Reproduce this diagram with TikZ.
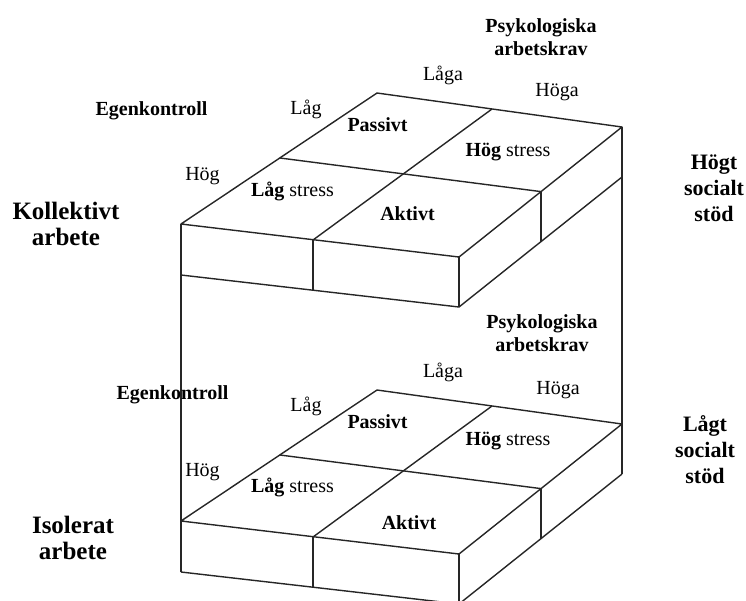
\documentclass[tikz,border=0pt]{standalone}
\usepackage{fontspec}
\setmainfont{Liberation Serif}
\usepackage{tikz}
\usetikzlibrary{positioning}
\tikzstyle{kant}=[line width=0.7pt,draw=black!85,line join=round]
\tikzstyle{etikett}=[inner sep=0pt,font=\fontsize{10}{11.5}\selectfont]
\tikzstyle{rubrik}=[etikett,align=center,font=\fontsize{10}{11.5}\selectfont\bfseries]
\tikzstyle{ruta}=[etikett,font=\fontsize{10}{11.5}\selectfont\bfseries]
\tikzstyle{arbete}=[rubrik,font=\fontsize{12.5}{13}\selectfont\bfseries]
\tikzstyle{stod}=[rubrik,font=\fontsize{11}{13}\selectfont\bfseries]

\begin{document}
\begin{tikzpicture}[x=0.5pt,y=-0.5pt]
	\useasboundingbox (0,0) rectangle (746,601);
	% de två lådorna, k = kollektivt, i = isolerat
	\foreach \n/\dy in {k/0,i/297}{
		\begin{scope}[shift={(0,\dy)}]
			\coordinate (\n-fl) at (181,224);
			\coordinate (\n-bl) at (377,93);
			\coordinate (\n-br) at (622,127);
			\coordinate (\n-fr) at (459,257);
			\coordinate (\n-fm) at (313,240);
			\coordinate (\n-bm) at (492,109);
			\coordinate (\n-lm) at (280,158);
			\coordinate (\n-rm) at (541,191.6);
			\coordinate (\n-fl2) at (181,275);
			\coordinate (\n-fm2) at (313,290);
			\coordinate (\n-fr2) at (459,307);
			\coordinate (\n-rm2) at (541,241.6);
			\coordinate (\n-br2) at (622,177);
			\draw[kant] (\n-fl) -- (\n-bl) -- (\n-br) -- (\n-fr) -- cycle;
			\draw[kant] (\n-fm) -- (\n-bm);
			\draw[kant] (\n-lm) -- (\n-rm);
			\draw[kant] (\n-fl2) -- (\n-fr2) -- (\n-br2);
			\draw[kant] (\n-fr) -- (\n-fr2);
			\draw[kant] (\n-fm) -- (\n-fm2);
			\draw[kant] (\n-rm) -- (\n-rm2);
		\end{scope}
	}
	\draw[kant] (k-fl) -- (i-fl2);
	\draw[kant] (k-br) -- (i-br2);

	% övre låda
	\node[rubrik]	(psyk1)	at (541,37)	{Psykologiska\\arbetskrav};
	\node[etikett]	(laga1)	at (443,75)	{Låga};
	\node[etikett]	(hoga1)	at (557,92)	{Höga};
	\node[ruta]	(egen1)	at (151.5,111)	{Egenkontroll};
	\node[etikett]	(lag1)	at (306,109)	{Låg};
	\node[etikett]	(hog1)	at (202.5,176)	{Hög};
	\node[arbete]	(koll)	at (66,224)	{Kollektivt\\arbete};
	\node[ruta]	(pass1)	at (377.5,125)	{Passivt};
	\node[etikett]	(hst1)	at (508,152)	{\textbf{Hög} stress};
	\node[etikett]	(lst1)	at (292.5,191)	{\textbf{Låg} stress};
	\node[ruta]	(akt1)	at (407.5,214)	{Aktivt};
	\node[stod]	(hogt)	at (714,188)	{Högt\\socialt\\stöd};

	% nedre låda
	\node[rubrik]	(psyk2)	at (542,333)	{Psykologiska\\arbetskrav};
	\node[etikett]	(laga2)	at (443,372)	{Låga};
	\node[etikett]	(hoga2)	at (558,390)	{Höga};
	\node[ruta]	(egen2)	at (172.5,395)	{Egenkontroll};
	\node[etikett]	(lag2)	at (306,406)	{Låg};
	\node[etikett]	(hog2)	at (202.5,472)	{Hög};
	\node[arbete]	(iso)	at (73,538)	{Isolerat\\arbete};
	\node[ruta]	(pass2)	at (377.5,422)	{Passivt};
	\node[etikett]	(hst2)	at (508,441)	{\textbf{Hög} stress};
	\node[etikett]	(lst2)	at (292.5,487)	{\textbf{Låg} stress};
	\node[ruta]	(akt2)	at (409,522.5)	{Aktivt};
	\node[stod]	(lagt)	at (705,450)	{Lågt\\socialt\\stöd};
\end{tikzpicture}
\end{document}
